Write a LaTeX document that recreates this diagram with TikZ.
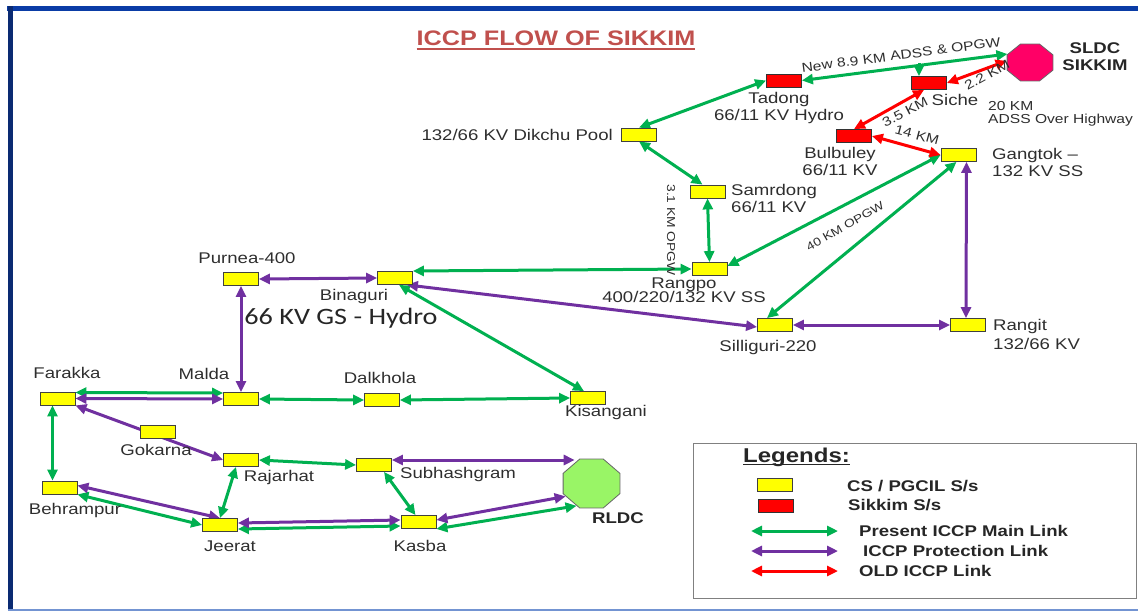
\documentclass[tikz,border=0pt]{standalone}
\usepackage{fontspec}
\setmainfont[FakeStretch=1.2]{Liberation Sans}
\newfontfamily\hydrofont[FakeStretch=1.2]{Carlito}
\usetikzlibrary{arrows.meta,shapes.geometric,backgrounds}

\definecolor{mainlink}{HTML}{00B050}
\definecolor{protlink}{HTML}{7030A0}
\definecolor{oldlink}{HTML}{FF0000}
\definecolor{csyellow}{HTML}{FFFF00}
\definecolor{skred}{HTML}{FF0000}
\definecolor{sldcpink}{HTML}{FF0066}
\definecolor{rldcgreen}{HTML}{99F566}
\definecolor{titlered}{HTML}{C0504D}
\definecolor{framenavy}{HTML}{0A2A72}
\definecolor{frameblue}{HTML}{0A3CA6}
\definecolor{framelight}{HTML}{7394D2}
\definecolor{labelgray}{HTML}{2E2E2E}

\newcommand\lblsize{\fontsize{15.5}{17}\selectfont}
\newcommand\kmsize{\fontsize{13}{13}\selectfont}
\newcommand\smallkm{\fontsize{11.5}{12}\selectfont}

\tikzset{
  cs box/.style={draw=black!75, fill=csyellow, line width=0.8pt,
    minimum width=35pt, minimum height=13pt, inner sep=0pt},
  sk box/.style={cs box, fill=skred, draw=black!80},
  ldc/.style={regular polygon, regular polygon sides=8, draw=black!60,
    line width=0.8pt, inner sep=0pt, transform shape},
  lbl/.style={text=labelgray, font=\lblsize, align=center, inner sep=0pt},
  lg text/.style={anchor=west, font=\bfseries\lblsize, inner sep=0pt, text=black!85}
}

\begin{document}
\begin{tikzpicture}[x=1pt, y=-1pt, >={Triangle[length=11pt,width=10pt]},
  link/.style={<->, line width=3pt},
  main/.style={link, mainlink},
  prot/.style={link, protlink},
  old/.style={link, oldlink}]

\useasboundingbox (0,0) rectangle (1138,611);

% frame
\fill[frameblue] (7,5.5) rectangle (1138,10.5);
\fill[framenavy] (7.5,5.5) rectangle (13,609);
\draw[framelight, line width=2pt] (7.5,609.5) -- (1138,609.5);

% title
\node[anchor=base, inner sep=0pt, text=titlered, font=\bfseries\fontsize{21}{21}\selectfont]
  (title) at (556,45.5) {ICCP FLOW OF SIKKIM};
\draw[titlered, line width=1.4pt] ([yshift=-3.5pt]title.base west) -- ([yshift=-3.5pt]title.base east);

% sub-stations
\foreach \n/\x/\y in {dikchu/639/134.5, gangtok/958.5/155, samrdong/707.5/191.5,
    rangpo/709.5/269, purnea/241/279, binaguri/395/278, silliguri/775/325,
    rangit/968/325, farakka/57.5/398.5, malda/241/399, dalkhola/382/400,
    kisangani/588/398, gokarna/158/431.5, rajarhat/241/460, subhash/374/465,
    behrampur/59.5/487.5, jeerat/220/525, kasba/418.5/522}
  \node[cs box] (ss-\n) at (\x,\y) {};

\foreach \n/\x/\y in {tadong/784/80.5, siche/929/83, bulbuley/854/136}
  \node[sk box] (ss-\n) at (\x,\y) {};

\begin{scope}[shift={(1030,62.5)}, xscale=1.24]
  \node[ldc, fill=sldcpink, minimum size=40pt] (sldc) at (0,0) {};
\end{scope}
\begin{scope}[shift={(591.5,483.5)}, xscale=1.16]
  \node[ldc, fill=rldcgreen, minimum size=53pt] (rldc) at (0,0) {};
\end{scope}

% labels
\node[lbl] (lb-tadong) at (779,107.5) {Tadong\\66/11 KV Hydro};
\node[lbl] (lb-siche) at (955,99.5) {Siche};
\node[lbl, font=\kmsize, anchor=west, align=left] (lb-highway) at (988,114) {20 KM\\ADSS Over Highway};
\node[lbl, font=\bfseries\lblsize, text=black!85] (lb-sldc) at (1095,57) {SLDC\\SIKKIM};
\node[lbl, anchor=east] (lb-dikchu) at (613,134.5) {132/66 KV Dikchu Pool};
\node[lbl] (lb-bulbuley) at (840,161.5) {Bulbuley\\66/11 KV};
\node[lbl, anchor=west, align=left] (lb-gangtok) at (992,162.5) {Gangtok \textendash\\132 KV SS};
\node[lbl, anchor=west, align=left] (lb-samrdong) at (731,198) {Samrdong\\66/11 KV};
\node[lbl] (lb-rangpo) at (684,290.5) {Rangpo\\[-3pt]400/220/132 KV SS};
\node[lbl] (lb-silliguri) at (768,347) {Silliguri-220};
\node[lbl, anchor=west, align=left] (lb-rangit) at (993,334) {Rangit\\[2pt]132/66 KV};
\node[lbl] (lb-purnea) at (247,258) {Purnea-400};
\node[lbl] (lb-binaguri) at (354,296) {Binaguri};
\node[lbl, text=black!85, font=\hydrofont\fontsize{23.5}{24}\selectfont] (lb-hydro) at (341,318) {66 KV GS - Hydro};
\node[lbl] (lb-farakka) at (67,373) {Farakka};
\node[lbl] (lb-malda) at (204,374) {Malda};
\node[lbl] (lb-dalkhola) at (380,378) {Dalkhola};
\node[lbl] (lb-kisangani) at (606,412) {Kisangani};
\node[lbl] (lb-gokarna) at (156,450) {Gokarna};
\node[lbl] (lb-rajarhat) at (279,477) {Rajarhat};
\node[lbl] (lb-subhash) at (458,474) {Subhashgram};
\node[lbl] (lb-behrampur) at (75,510) {Behrampur};
\node[lbl] (lb-jeerat) at (230,546) {Jeerat};
\node[lbl] (lb-kasba) at (420,546) {Kasba};
\node[lbl, font=\bfseries\lblsize, text=black!85] (lb-rldc) at (618,518) {RLDC};

% link lengths
\node[lbl, font=\kmsize, rotate=7.5] (lb-new) at (901,55) {New 8.9 KM ADSS \& OPGW};
\node[lbl, font=\kmsize, rotate=29] (lb-22) at (987,75) {2.2 KM};
\node[lbl, font=\kmsize, rotate=27] (lb-35) at (905,112) {3.5 KM};
\node[lbl, font=\kmsize, rotate=-15] (lb-14) at (917,135) {14 KM};
\node[lbl, font=\smallkm, rotate=-90] (lb-31) at (671,230) {3.1 KM OPGW};
\node[lbl, font=\smallkm, rotate=30] (lb-40) at (845,226) {40 KM OPGW};

\begin{scope}[on background layer]
% present main links
\foreach \a/\b in {ss-tadong.west/ss-dikchu.north, ss-samrdong.south/ss-rangpo.north,
    ss-malda.east/ss-dalkhola.west, ss-dalkhola.east/ss-kisangani.west,
    ss-rajarhat.east/ss-subhash.west, ss-behrampur.south east/ss-jeerat.west,
    ss-kasba.south east/rldc.240, ss-tadong.east/sldc.155}
  \draw[main] (\a) -- (\b);
\draw[main] (ss-dikchu.south) -- ([xshift=-5pt]ss-samrdong.north);
\draw[main] (ss-gangtok.west) -- ([yshift=3pt]ss-rangpo.east);
\draw[main] ([xshift=-2pt]ss-gangtok.south) -- ([xshift=-8pt]ss-silliguri.north);
\draw[main] ([yshift=7pt]ss-binaguri.east) -- (ss-rangpo.west);
\draw[main] ([xshift=4pt]ss-binaguri.south) -- ([xshift=-4pt]ss-kisangani.north);
\draw[main] ([yshift=6pt]ss-farakka.east) -- ([yshift=6pt]ss-malda.west);
\draw[main] ([xshift=-5pt]ss-farakka.south) -- ([xshift=-7pt]ss-behrampur.north);
\draw[main] ([xshift=-5pt]ss-rajarhat.south) -- (ss-jeerat.north);
\draw[main] ([xshift=10pt]ss-subhash.south) -- ([xshift=-3pt]ss-kasba.north);
\draw[main] ([yshift=-4pt]ss-jeerat.east) -- ([yshift=-4pt]ss-kasba.west);
\coordinate (tap) at ([xshift=-10pt,yshift=13pt]ss-siche.north);
\draw[main, ->] (tap) -- ([xshift=-10pt]ss-siche.north);

% protection links
\foreach \a/\b in {ss-purnea.east/ss-binaguri.west, ss-purnea.south/ss-malda.north,
    ss-silliguri.east/ss-rangit.west, ss-farakka.east/ss-malda.west,
    ss-farakka.south east/ss-rajarhat.west}
  \draw[prot] (\a) -- (\b);
\draw[prot] ([xshift=-6pt]ss-binaguri.south east) -- ([yshift=-2pt]ss-silliguri.west);
\draw[prot] ([xshift=8pt]ss-gangtok.south) -- ([xshift=-2pt]ss-rangit.north);
\draw[prot] ([yshift=5pt]ss-subhash.east) -- ([yshift=5pt]ss-subhash.east -| rldc.125);
\draw[prot] ([yshift=2pt]ss-behrampur.east) -- (ss-jeerat.north);
\draw[prot] ([yshift=2pt]ss-jeerat.east) -- ([yshift=2pt]ss-kasba.west);
\draw[prot] ([yshift=2pt]ss-kasba.east) -- (rldc.210);

% old links
\draw[old] (ss-siche.east) -- (sldc.175);
\draw[old] ([xshift=-5pt]ss-siche.south) -- (ss-bulbuley.north);
\draw[old] (ss-bulbuley.east) -- (ss-gangtok.west);
\end{scope}

% legend
\node[draw=black!50, line width=1pt, anchor=north west, inner sep=0pt,
  minimum width=442.5pt, minimum height=154.5pt] (legend) at (693,443) {};
\node[anchor=base west, inner sep=0pt, text=black!85, font=\bfseries\fontsize{20}{20}\selectfont]
  (lg-title) at (743,462) {Legends:};
\draw[black!85, line width=1.6pt] ([yshift=-2.5pt]lg-title.base west) -- ([yshift=-2.5pt]lg-title.base east);
\node[cs box] (lg-cs) at (775,485) {};
\node[sk box] (lg-sk) at (776,506) {};
\node[lg text] (lg-cs-text) at (847,486) {CS / PGCIL S/s};
\node[lg text] (lg-sk-text) at (848,505) {Sikkim S/s};
\foreach \s/\y/\x/\t in {main/531/859/Present ICCP Main Link,
    prot/551/863/ICCP Protection Link, old/571/859/OLD ICCP Link} {
  \coordinate (lg-\s-a) at (751,\y);
  \coordinate (lg-\s-b) at (838,\y);
  \draw[\s] (lg-\s-a) -- (lg-\s-b);
  \node[lg text] (lg-\s-text) at (\x,\y) {\t};
}

\end{tikzpicture}
\end{document}
